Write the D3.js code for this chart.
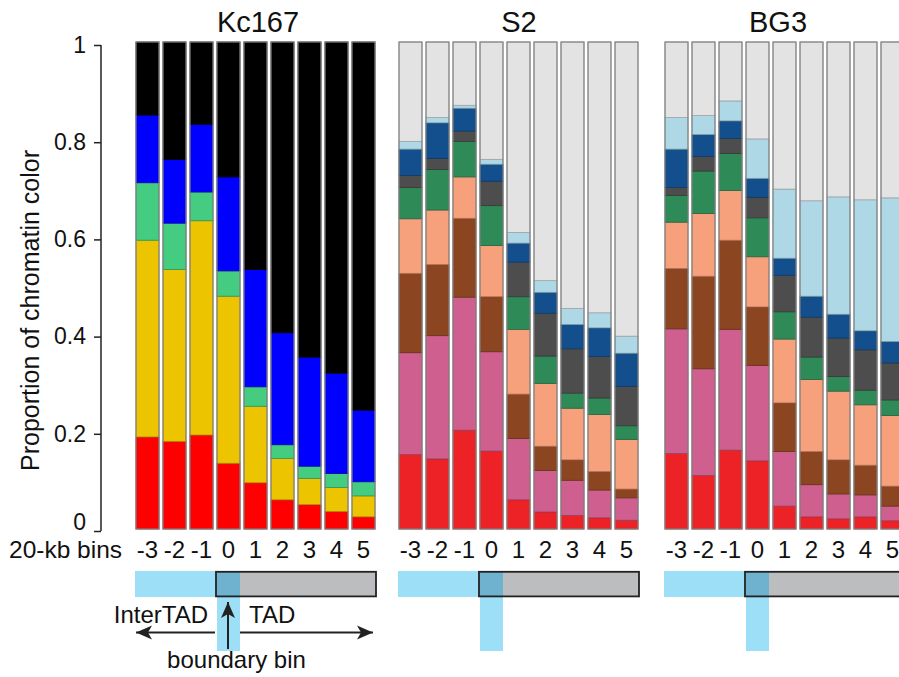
<!DOCTYPE html>
<html>
<head>
<meta charset="utf-8">
<script src="https://cdn.jsdelivr.net/npm/d3@7"></script>
<style>
  body { margin: 0; background: #fff; }
  text { font-family: "Liberation Sans", Arial, Helvetica, sans-serif; fill: #111; }
</style>
</head>
<body>
<svg id="chart" width="899" height="677"></svg>
<script>
// 20-kb bins around the TAD boundary (bin 0)
const bins = ["-3", "-2", "-1", "0", "1", "2", "3", "4", "5"];

// Kc167: five chromatin types, proportion per bin
const kcStates = ["RED", "YELLOW", "GREEN", "BLUE", "BLACK"];
const kcColors = ["#ff0000", "#ecc500", "#44cc80", "#0000ff", "#000000"];
const kcRed    = [0.189, 0.180, 0.193, 0.135, 0.095, 0.060, 0.050, 0.036, 0.025];
const kcYellow = [0.404, 0.353, 0.440, 0.343, 0.157, 0.085, 0.054, 0.049, 0.043];
const kcGreen  = [0.118, 0.095, 0.059, 0.052, 0.040, 0.028, 0.025, 0.029, 0.029];
const kcBlue   = [0.139, 0.131, 0.139, 0.193, 0.241, 0.230, 0.224, 0.206, 0.147];
const kcBlack  = [0.150, 0.241, 0.169, 0.277, 0.467, 0.597, 0.647, 0.680, 0.756];

// S2 and BG3: nine chromatin states
const nineStates = ["1", "2", "3", "4", "5", "6", "7", "8", "9"];
const nineColors = ["#ec2227", "#cf5f8e", "#8b4520", "#f7a07c", "#2e8b57",
                    "#4d4d4d", "#134f8c", "#afd8e6", "#e3e3e3"];

const s2State1 = [0.153, 0.144, 0.203, 0.160, 0.060, 0.035, 0.028, 0.023, 0.018];
const s2State2 = [0.209, 0.253, 0.273, 0.204, 0.126, 0.085, 0.072, 0.057, 0.046];
const s2State3 = [0.163, 0.146, 0.162, 0.113, 0.091, 0.050, 0.042, 0.038, 0.018];
const s2State4 = [0.112, 0.112, 0.085, 0.105, 0.133, 0.129, 0.106, 0.117, 0.102];
const s2State5 = [0.064, 0.083, 0.073, 0.082, 0.067, 0.056, 0.031, 0.034, 0.028];
const s2State6 = [0.025, 0.023, 0.021, 0.050, 0.071, 0.088, 0.091, 0.085, 0.081];
const s2State7 = [0.054, 0.073, 0.047, 0.035, 0.039, 0.043, 0.050, 0.059, 0.068];
const s2State8 = [0.016, 0.011, 0.006, 0.010, 0.022, 0.024, 0.033, 0.031, 0.035];
const s2State9 = [0.204, 0.155, 0.130, 0.241, 0.391, 0.490, 0.547, 0.556, 0.604];

const bg3State1 = [0.155, 0.110, 0.162, 0.140, 0.047, 0.025, 0.021, 0.025, 0.017];
const bg3State2 = [0.256, 0.219, 0.248, 0.196, 0.112, 0.066, 0.051, 0.045, 0.030];
const bg3State3 = [0.124, 0.190, 0.183, 0.120, 0.100, 0.068, 0.070, 0.061, 0.041];
const bg3State4 = [0.095, 0.129, 0.102, 0.103, 0.131, 0.148, 0.141, 0.124, 0.145];
const bg3State5 = [0.055, 0.087, 0.076, 0.080, 0.056, 0.046, 0.030, 0.030, 0.032];
const bg3State6 = [0.016, 0.030, 0.031, 0.042, 0.075, 0.082, 0.079, 0.083, 0.076];
const bg3State7 = [0.079, 0.045, 0.036, 0.039, 0.035, 0.043, 0.049, 0.039, 0.044];
const bg3State8 = [0.065, 0.039, 0.041, 0.081, 0.142, 0.196, 0.241, 0.269, 0.295];
const bg3State9 = [0.155, 0.151, 0.121, 0.199, 0.302, 0.326, 0.318, 0.324, 0.320];

const yTicks = [0, 0.2, 0.4, 0.6, 0.8, 1];

// Panel definitions built from the arrays above
const panels = [
  { title: "Kc167", left: 136, titleX: 258, states: kcStates, colors: kcColors,
    series: [kcRed, kcYellow, kcGreen, kcBlue, kcBlack] },
  { title: "S2", left: 399, titleX: 519, states: nineStates, colors: nineColors,
    series: [s2State1, s2State2, s2State3, s2State4, s2State5, s2State6, s2State7, s2State8, s2State9] },
  { title: "BG3", left: 665, titleX: 778, states: nineStates, colors: nineColors,
    series: [bg3State1, bg3State2, bg3State3, bg3State4, bg3State5, bg3State6, bg3State7, bg3State8, bg3State9] }
];

const svg = d3.select("#chart");
const y = d3.scaleLinear().domain([0, 1]).range([529, 42]);
// the axis sits a touch lower than the bar stack
const yAxisScale = y.copy().range([531, 45]);

// Y axis
const axisG = svg.append("g").attr("transform", "translate(101,0)");
axisG.call(d3.axisLeft(yAxisScale).tickValues(yTicks).tickSize(7).tickPadding(8)
  .tickFormat(d => d === 0 || d === 1 ? d3.format("d")(d) : d3.format(".1f")(d)));
axisG.select(".domain").attr("d", `M0,${yAxisScale(1)}V${yAxisScale(0)}`).attr("stroke", "#222").attr("stroke-width", 1.5);
axisG.selectAll(".tick line").attr("stroke", "#222").attr("stroke-width", 1.5);
axisG.selectAll(".tick text").attr("font-size", 23).attr("fill", "#111")
  .attr("font-family", "'Liberation Sans', Arial, sans-serif");
// lift the "0" label clear of the bin row below
axisG.selectAll(".tick text").filter(d => d === 0).attr("dy", "-0.05em");

svg.append("text")
  .attr("transform", `translate(39,${(y(0) + y(1)) / 2 + 25}) rotate(-90)`)
  .attr("text-anchor", "middle")
  .attr("font-size", 25)
  .text("Proportion of chromatin color");

// "20-kb bins" row label
svg.append("text").attr("x", 9).attr("y", 558).attr("font-size", 24.5).text("20-kb bins");

const cyan = "#9cdff7", overlapCol = "#6fb2d0", boxGray = "#bcbdbf";

panels.forEach((p, pi) => {
  const x = d3.scaleBand().domain(bins)
    .range([p.left - 2, p.left + 241])
    .paddingInner(4 / 27).paddingOuter(2 / 27);

  const rows = bins.map((b, i) => {
    const r = { bin: b };
    p.states.forEach((s, k) => { r[s] = p.series[k][i]; });
    return r;
  });
  const stacked = d3.stack().keys(p.states)(rows);
  const g = svg.append("g");

  stacked.forEach((layer, k) => {
    const fill = p.colors[k];
    const stroke = fill === "#000000" ? "#000" : d3.color(fill).darker(0.9).formatHex();
    g.append("g").selectAll("rect").data(layer).join("rect")
      .attr("x", d => x(d.data.bin))
      .attr("width", x.bandwidth())
      .attr("y", d => y(d[1]))
      .attr("height", d => y(d[0]) - y(d[1]))
      .attr("fill", fill)
      .attr("stroke", stroke)
      .attr("stroke-width", 0.8);
  });

  // outline of each whole bar
  g.append("g").selectAll("rect").data(rows).join("rect")
    .attr("x", d => x(d.bin))
    .attr("width", x.bandwidth())
    .attr("y", y(1))
    .attr("height", y(0) - y(1))
    .attr("fill", "none")
    .attr("stroke", "#858585")
    .attr("stroke-width", 1.2);

  // panel title
  svg.append("text").attr("x", p.titleX).attr("y", 32)
    .attr("text-anchor", "middle").attr("font-size", 29).text(p.title);

  // bin labels
  svg.append("g").selectAll("text").data(bins).join("text")
    .attr("x", d => x(d) + x.bandwidth() / 2)
    .attr("y", 558)
    .attr("text-anchor", "middle")
    .attr("font-size", 24)
    .text(d => d);

  // TAD / interTAD schematic
  const b0 = x("0"), bw = x.bandwidth();
  const boxRight = p.left + 240;
  const sg = svg.append("g");
  sg.append("rect").attr("x", p.left - 1).attr("y", 571).attr("width", b0 - (p.left - 1)).attr("height", 26).attr("fill", cyan);
  sg.append("rect").attr("x", b0 - 1).attr("y", 571).attr("width", boxRight - b0 + 1).attr("height", 26).attr("fill", boxGray);
  sg.append("rect").attr("x", b0).attr("y", 571).attr("width", bw).attr("height", 26).attr("fill", overlapCol);
  sg.append("rect").attr("x", b0).attr("y", 597).attr("width", bw).attr("height", 54).attr("fill", cyan);
  sg.append("rect").attr("x", b0 - 1).attr("y", 571.8).attr("width", boxRight - b0 + 1).attr("height", 24.6)
    .attr("fill", "none").attr("stroke", "#222").attr("stroke-width", 1.8);

  if (pi === 0) {
    const defs = svg.append("defs");
    defs.append("marker").attr("id", "head")
      .attr("viewBox", "-17 -8 19 16").attr("refX", 0).attr("refY", 0)
      .attr("markerWidth", 19).attr("markerHeight", 16)
      .attr("markerUnits", "userSpaceOnUse").attr("orient", "auto")
      .append("path").attr("d", "M0,0L-16,-7L-12,0L-16,7Z").attr("fill", "#222");

    const ay = 632.5;
    sg.append("line").attr("x1", b0 - 2).attr("y1", ay).attr("x2", p.left).attr("y2", ay)
      .attr("stroke", "#222").attr("stroke-width", 2).attr("marker-end", "url(#head)");
    sg.append("line").attr("x1", b0 + bw).attr("y1", ay).attr("x2", boxRight - 3).attr("y2", ay)
      .attr("stroke", "#222").attr("stroke-width", 2).attr("marker-end", "url(#head)");
    sg.append("line").attr("x1", b0 + bw / 2 - 0.5).attr("y1", 649).attr("x2", b0 + bw / 2 - 0.5).attr("y2", 602)
      .attr("stroke", "#222").attr("stroke-width", 2).attr("marker-end", "url(#head)");

    sg.append("text").attr("x", b0 - 9).attr("y", 623).attr("text-anchor", "end").attr("font-size", 24).text("InterTAD");
    sg.append("text").attr("x", b0 + bw + 9).attr("y", 623).attr("font-size", 24).text("TAD");
    sg.append("text").attr("x", b0 + bw / 2 + 8).attr("y", 668).attr("text-anchor", "middle").attr("font-size", 24).text("boundary bin");
  }
});
</script>
</body>
</html>
